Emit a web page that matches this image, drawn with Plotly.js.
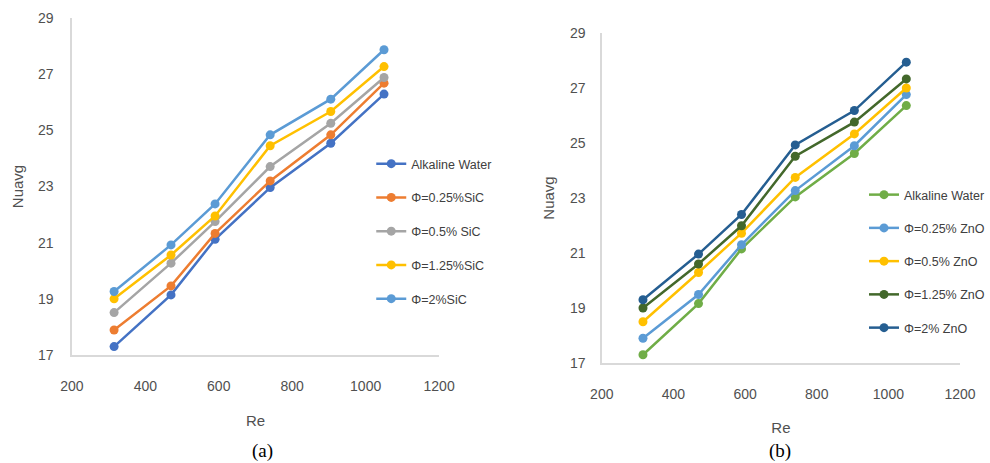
<!DOCTYPE html>
<html>
<head>
<meta charset="utf-8">
<script src="https://cdn.plot.ly/plotly-3.0.1.min.js"></script>
<style>html,body{margin:0;padding:0;background:#fff;}#chart{width:990px;height:463px;}</style>
</head>
<body>
<div id="chart"></div>
<script>
// Data
const re = [315, 470, 590, 740, 905, 1050];

const sicNames = ["Alkaline Water", "Φ=0.25%SiC", "Φ=0.5% SiC", "Φ=1.25%SiC", "Φ=2%SiC"];
const sicAlkaline = [17.30, 19.14, 21.12, 22.96, 24.54, 26.29];
const sic025 = [17.89, 19.46, 21.33, 23.20, 24.84, 26.68];
const sic05 = [18.51, 20.27, 21.75, 23.71, 25.25, 26.88];
const sic125 = [19.00, 20.56, 21.95, 24.45, 25.67, 27.27];
const sic2 = [19.26, 20.92, 22.38, 24.84, 26.11, 27.87];

const znoNames = ["Alkaline Water", "Φ=0.25% ZnO", "Φ=0.5% ZnO", "Φ=1.25% ZnO", "Φ=2% ZnO"];
const znoAlkaline = [17.30, 19.16, 21.15, 23.04, 24.62, 26.36];
const zno025 = [17.90, 19.49, 21.30, 23.27, 24.90, 26.76];
const zno05 = [18.50, 20.29, 21.72, 23.75, 25.33, 27.00];
const zno125 = [19.00, 20.60, 21.99, 24.52, 25.76, 27.33];
const zno2 = [19.30, 20.96, 22.40, 24.93, 26.18, 27.94];

const xTickVals = [200, 400, 600, 800, 1000, 1200];
const yTickVals = [17, 19, 21, 23, 25, 27, 29];

const sicColors = ["#4472C4", "#ED7D31", "#A5A5A5", "#FFC000", "#5B9BD5"];
const znoColors = ["#70AD47", "#5B9BD5", "#FFC000", "#43682B", "#255E91"];

const sicSeries = [sicAlkaline, sic025, sic05, sic125, sic2];
const znoSeries = [znoAlkaline, zno025, zno05, zno125, zno2];

const traces = [];
sicSeries.forEach((ys, i) => {
  traces.push({
    x: re, y: ys, name: sicNames[i], type: "scatter", mode: "lines+markers",
    xaxis: "x", yaxis: "y", legend: "legend", legendgroup: "a" + i,
    line: {color: sicColors[i], width: 2.5},
    marker: {color: sicColors[i], size: 9, symbol: "circle"}
  });
});
znoSeries.forEach((ys, i) => {
  traces.push({
    x: re, y: ys, name: znoNames[i], type: "scatter", mode: "lines+markers",
    xaxis: "x2", yaxis: "y2", legend: "legend2", legendgroup: "b" + i,
    line: {color: znoColors[i], width: 2.5},
    marker: {color: znoColors[i], size: 9, symbol: "circle"}
  });
});

const W = 990, H = 463;
const txtColor = "#505050";
const tickFont = {family: "Liberation Sans, Arial, sans-serif", size: 14, color: txtColor};
function xAx(domain, anchor, standoff) {
  return {
    domain: domain, anchor: anchor, range: [200, 1200], tickvals: xTickVals,
    ticktext: xTickVals.map(String),
    showgrid: false, zeroline: false, showline: true, linecolor: "#D9D9D9", linewidth: 1.5,
    ticks: "", ticklabelstandoff: 18, tickfont: tickFont,
    title: {text: "Re", font: {family: "Liberation Sans, Arial, sans-serif", size: 15, color: txtColor}, standoff: standoff}
  };
}
function yAx(domain, anchor, lblStandoff, standoff) {
  return {
    domain: domain, anchor: anchor, range: [17, 29], tickvals: yTickVals,
    ticktext: yTickVals.map(String),
    showgrid: false, zeroline: false, showline: true, linecolor: "#D9D9D9", linewidth: 1.5,
    ticks: "", ticklabelstandoff: lblStandoff, tickfont: tickFont,
    title: {text: "Nuavg", font: {family: "Liberation Sans, Arial, sans-serif", size: 15, color: txtColor}, standoff: standoff}
  };
}
const legFont = {family: "Liberation Sans, Arial, sans-serif", size: 12.5, color: "#404040"};

const layout = {
  width: W, height: H,
  margin: {l: 0, r: 0, t: 0, b: 0},
  paper_bgcolor: "#fff", plot_bgcolor: "#fff",
  showlegend: true,
  xaxis: xAx([72 / W, 440 / W], "y", 22),
  yaxis: yAx([1 - 355 / H, 1 - 18 / H], "x", 14, 10),
  xaxis2: xAx([603 / W, 962 / W], "y2", 21),
  yaxis2: yAx([1 - 363 / H, 1 - 33 / H], "x2", 12, 11),
  legend: {
    x: 372 / W, y: 1 - 149 / H, xanchor: "left", yanchor: "top",
    bgcolor: "rgba(0,0,0,0)", font: legFont, tracegroupgap: 14.5, itemwidth: 30
  },
  legend2: {
    x: 866 / W, y: 1 - 180 / H, xanchor: "left", yanchor: "top",
    bgcolor: "rgba(0,0,0,0)", font: legFont, tracegroupgap: 14, itemwidth: 30
  },
  annotations: [
    {text: "(a)", xref: "paper", yref: "paper", x: 263 / W, y: 1 - 451 / H, yanchor: "middle", xanchor: "center", showarrow: false,
     font: {family: "Liberation Serif, Times New Roman, serif", size: 19, color: "#000"}},
    {text: "(b)", xref: "paper", yref: "paper", x: 782 / W, y: 1 - 451 / H, yanchor: "middle", xanchor: "center", showarrow: false,
     font: {family: "Liberation Serif, Times New Roman, serif", size: 19, color: "#000"}}
  ]
};

Plotly.newPlot("chart", traces, layout, {displayModeBar: false, staticPlot: true});
</script>
</body>
</html>
